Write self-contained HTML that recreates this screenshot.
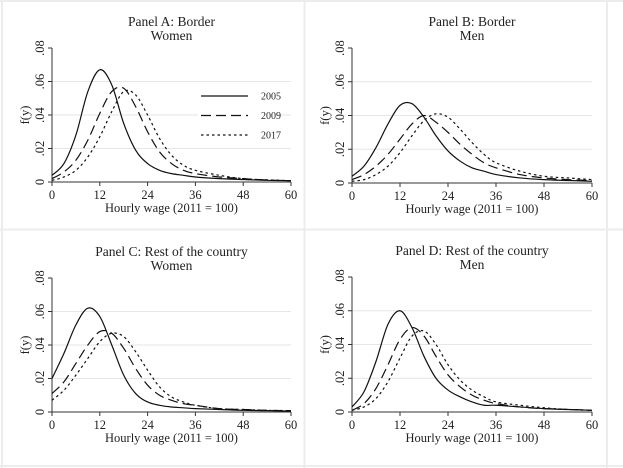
<!DOCTYPE html>
<html><head><meta charset="utf-8"><style>
body{margin:0;background:#fff}
svg{display:block}
svg text{font-family:"Liberation Serif","DejaVu Serif",serif}
</style></head><body>
<svg id="chart" width="623" height="468">
<rect x="0" y="0" width="623" height="468" fill="#fff"/>
<line x1="304.5" y1="0" x2="304.5" y2="468" stroke="#ececec" stroke-width="2"/>
<line x1="0" y1="229.5" x2="623" y2="229.5" stroke="#ececec" stroke-width="2"/>
<line x1="607" y1="0" x2="607" y2="468" stroke="#ececec" stroke-width="2"/>
<line x1="0" y1="466" x2="623" y2="466" stroke="#ececec" stroke-width="2"/>
<line x1="0" y1="1" x2="623" y2="1" stroke="#ececec" stroke-width="2"/>
<line x1="2" y1="0" x2="2" y2="468" stroke="#ececec" stroke-width="2"/>
</svg>
<script>
const xGrid=[0,3,6,9,12,15,18,21,24,27,30,33,36,42,48,54,60];
const years=['2005','2009','2017'];
const xTicks=[0,12,24,36,48,60];
const yTicks=[0,0.02,0.04,0.06,0.08];
const yTickLabels=['0','.02','.04','.06','.08'];
const titles=[['Panel A: Border','Women'],['Panel B: Border','Men'],['Panel C: Rest of the country','Women'],['Panel D: Rest of the country','Men']];
const a2005=[.004,.011,.028,.054,.067,.058,.035,.019,.011,.007,.005,.004,.003,.002,.0015,.001,.0008];
const a2009=[.002,.006,.013,.025,.041,.054,.056,.045,.030,.018,.011,.007,.005,.003,.002,.0012,.0008];
const a2017=[.001,.003,.007,.015,.027,.042,.054,.052,.040,.026,.016,.010,.007,.004,.002,.0013,.0008];
const b2005=[.004,.010,.021,.035,.046,.047,.039,.028,.019,.013,.009,.007,.005,.003,.002,.0015,.001];
const b2009=[.002,.005,.010,.017,.026,.035,.040,.036,.030,.023,.017,.012,.009,.005,.003,.002,.0015];
const b2017=[.001,.002,.005,.010,.018,.028,.037,.041,.039,.032,.024,.017,.012,.007,.004,.003,.002];
const c2005=[.020,.035,.052,.062,.057,.040,.022,.011,.006,.004,.003,.0025,.002,.0015,.001,.0008,.0005];
const c2009=[.011,.018,.029,.040,.048,.047,.038,.026,.016,.010,.007,.005,.004,.002,.0015,.001,.0008];
const c2017=[.007,.013,.022,.032,.042,.047,.045,.036,.025,.015,.009,.006,.004,.002,.0015,.001,.0008];
const d2005=[.003,.012,.030,.052,.060,.050,.033,.020,.013,.009,.006,.004,.004,.003,.002,.0015,.001];
const d2009=[.001,.005,.014,.028,.043,.050,.045,.033,.022,.015,.010,.007,.005,.003,.002,.0015,.001];
const d2017=[.001,.003,.008,.018,.032,.045,.048,.040,.028,.019,.013,.009,.006,.004,.0025,.0015,.001];
const series=[[a2005,a2009,a2017],[b2005,b2009,b2017],[c2005,c2009,c2017],[d2005,d2009,d2017]];
const dashes=['none','10,5','2.5,3'];
const frames=[{x0:52,x1:291,y0:182,y1:48},{x0:352,x1:592,y0:183,y1:48},{x0:52,x1:291,y0:412,y1:278},{x0:352,x1:592,y0:412,y1:277}];
const svg=document.getElementById('chart');
const NS='http://www.w3.org/2000/svg';
const FF='"Liberation Serif", "DejaVu Serif", serif';
function mk(tag,attrs,parent){const e=document.createElementNS(NS,tag);for(const k in attrs)e.setAttribute(k,attrs[k]);if(tag==='text')e.setAttribute('font-family',FF);(parent||svg).appendChild(e);return e;}
function smooth(pts){let d='M'+pts[0][0]+','+pts[0][1];for(let i=0;i<pts.length-1;i++){const p0=pts[Math.max(i-1,0)],p1=pts[i],p2=pts[i+1],p3=pts[Math.min(i+2,pts.length-1)];const c1x=p1[0]+(p2[0]-p0[0])/6,c1y=p1[1]+(p2[1]-p0[1])/6,c2x=p2[0]-(p3[0]-p1[0])/6,c2y=p2[1]-(p3[1]-p1[1])/6;d+=' C'+c1x.toFixed(2)+','+c1y.toFixed(2)+' '+c2x.toFixed(2)+','+c2y.toFixed(2)+' '+p2[0].toFixed(2)+','+p2[1].toFixed(2);}return d;}
frames.forEach((f,pi)=>{
  const g=mk('g',{});
  
  
  const sx=v=>f.x0+(v/60)*(f.x1-f.x0);
  const sy=v=>f.y0+(v/0.08)*(f.y1-f.y0);
  const cx=(f.x0+f.x1)/2;
  const t1=mk('text',{x:cx,y:f.y1-22,'text-anchor':'middle','font-size':13.5,fill:'#222'},g);t1.textContent=titles[pi][0];
  
  
  const t2=mk('text',{x:cx,y:f.y1-8,'text-anchor':'middle','font-size':13.5,fill:'#222'},g);t2.textContent=titles[pi][1];
  
  
  yTicks.forEach((v,i)=>{
    if(v>0&&v<0.08){const gl=mk('line',{x1:f.x0,x2:f.x1,y1:sy(v),y2:sy(v),stroke:'#e6e6e6','stroke-width':1},g);
      
      }
    mk('line',{x1:f.x0-4,x2:f.x0,y1:sy(v),y2:sy(v),stroke:'#333'},g);
    const yy=sy(v),xx=f.x0-8;
    const tl=mk('text',{x:xx,y:yy,'text-anchor':'middle','font-size':12.5,fill:'#222',transform:'rotate(-90 '+xx+' '+yy+')'},g);tl.textContent=yTickLabels[i];
    
    
  });
  xTicks.forEach(v=>{
    mk('line',{x1:sx(v),x2:sx(v),y1:f.y0,y2:f.y0+4,stroke:'#333'},g);
    const tl=mk('text',{x:sx(v),y:f.y0+17,'text-anchor':'middle','font-size':12.5,fill:'#222'},g);tl.textContent=v;
    
    
  });
  mk('line',{x1:f.x0,x2:f.x0,y1:f.y1,y2:f.y0,stroke:'#333'},g);
  mk('line',{x1:f.x0,x2:f.x1,y1:f.y0,y2:f.y0,stroke:'#333'},g);
  const xt=mk('text',{x:cx,y:f.y0+30,'text-anchor':'middle','font-size':12.5,fill:'#222'},g);xt.textContent='Hourly wage (2011 = 100)';
  
  
  const yx=f.x0-23,yy=(f.y0+f.y1)/2;
  const yt=mk('text',{x:yx,y:yy,'text-anchor':'middle','font-size':12.5,fill:'#222',transform:'rotate(-90 '+yx+' '+yy+')'},g);yt.textContent='f(y)';
  
  
  series[pi].forEach((vals,si)=>{
    const pts=xGrid.map((x,i)=>[sx(x),sy(vals[i])]);
    const p=mk('path',{d:smooth(pts),fill:'none',stroke:'#111','stroke-width':1.2,'stroke-dasharray':dashes[si]},g);
    
    
  });
});
const lg=mk('g',{});


years.forEach((y,i)=>{
  const yy=96+i*19.5;
  mk('rect',{x:198,y:yy-8,width:80,height:16,fill:'#fff'},lg);
  mk('line',{x1:201,x2:248,y1:yy,y2:yy,stroke:'#111','stroke-width':1.2,'stroke-dasharray':dashes[i]},lg);
  const t=mk('text',{x:261,y:yy+3.5,'font-size':10,fill:'#222'},lg);t.textContent=y;
  
  
});
</script>
</body></html>
